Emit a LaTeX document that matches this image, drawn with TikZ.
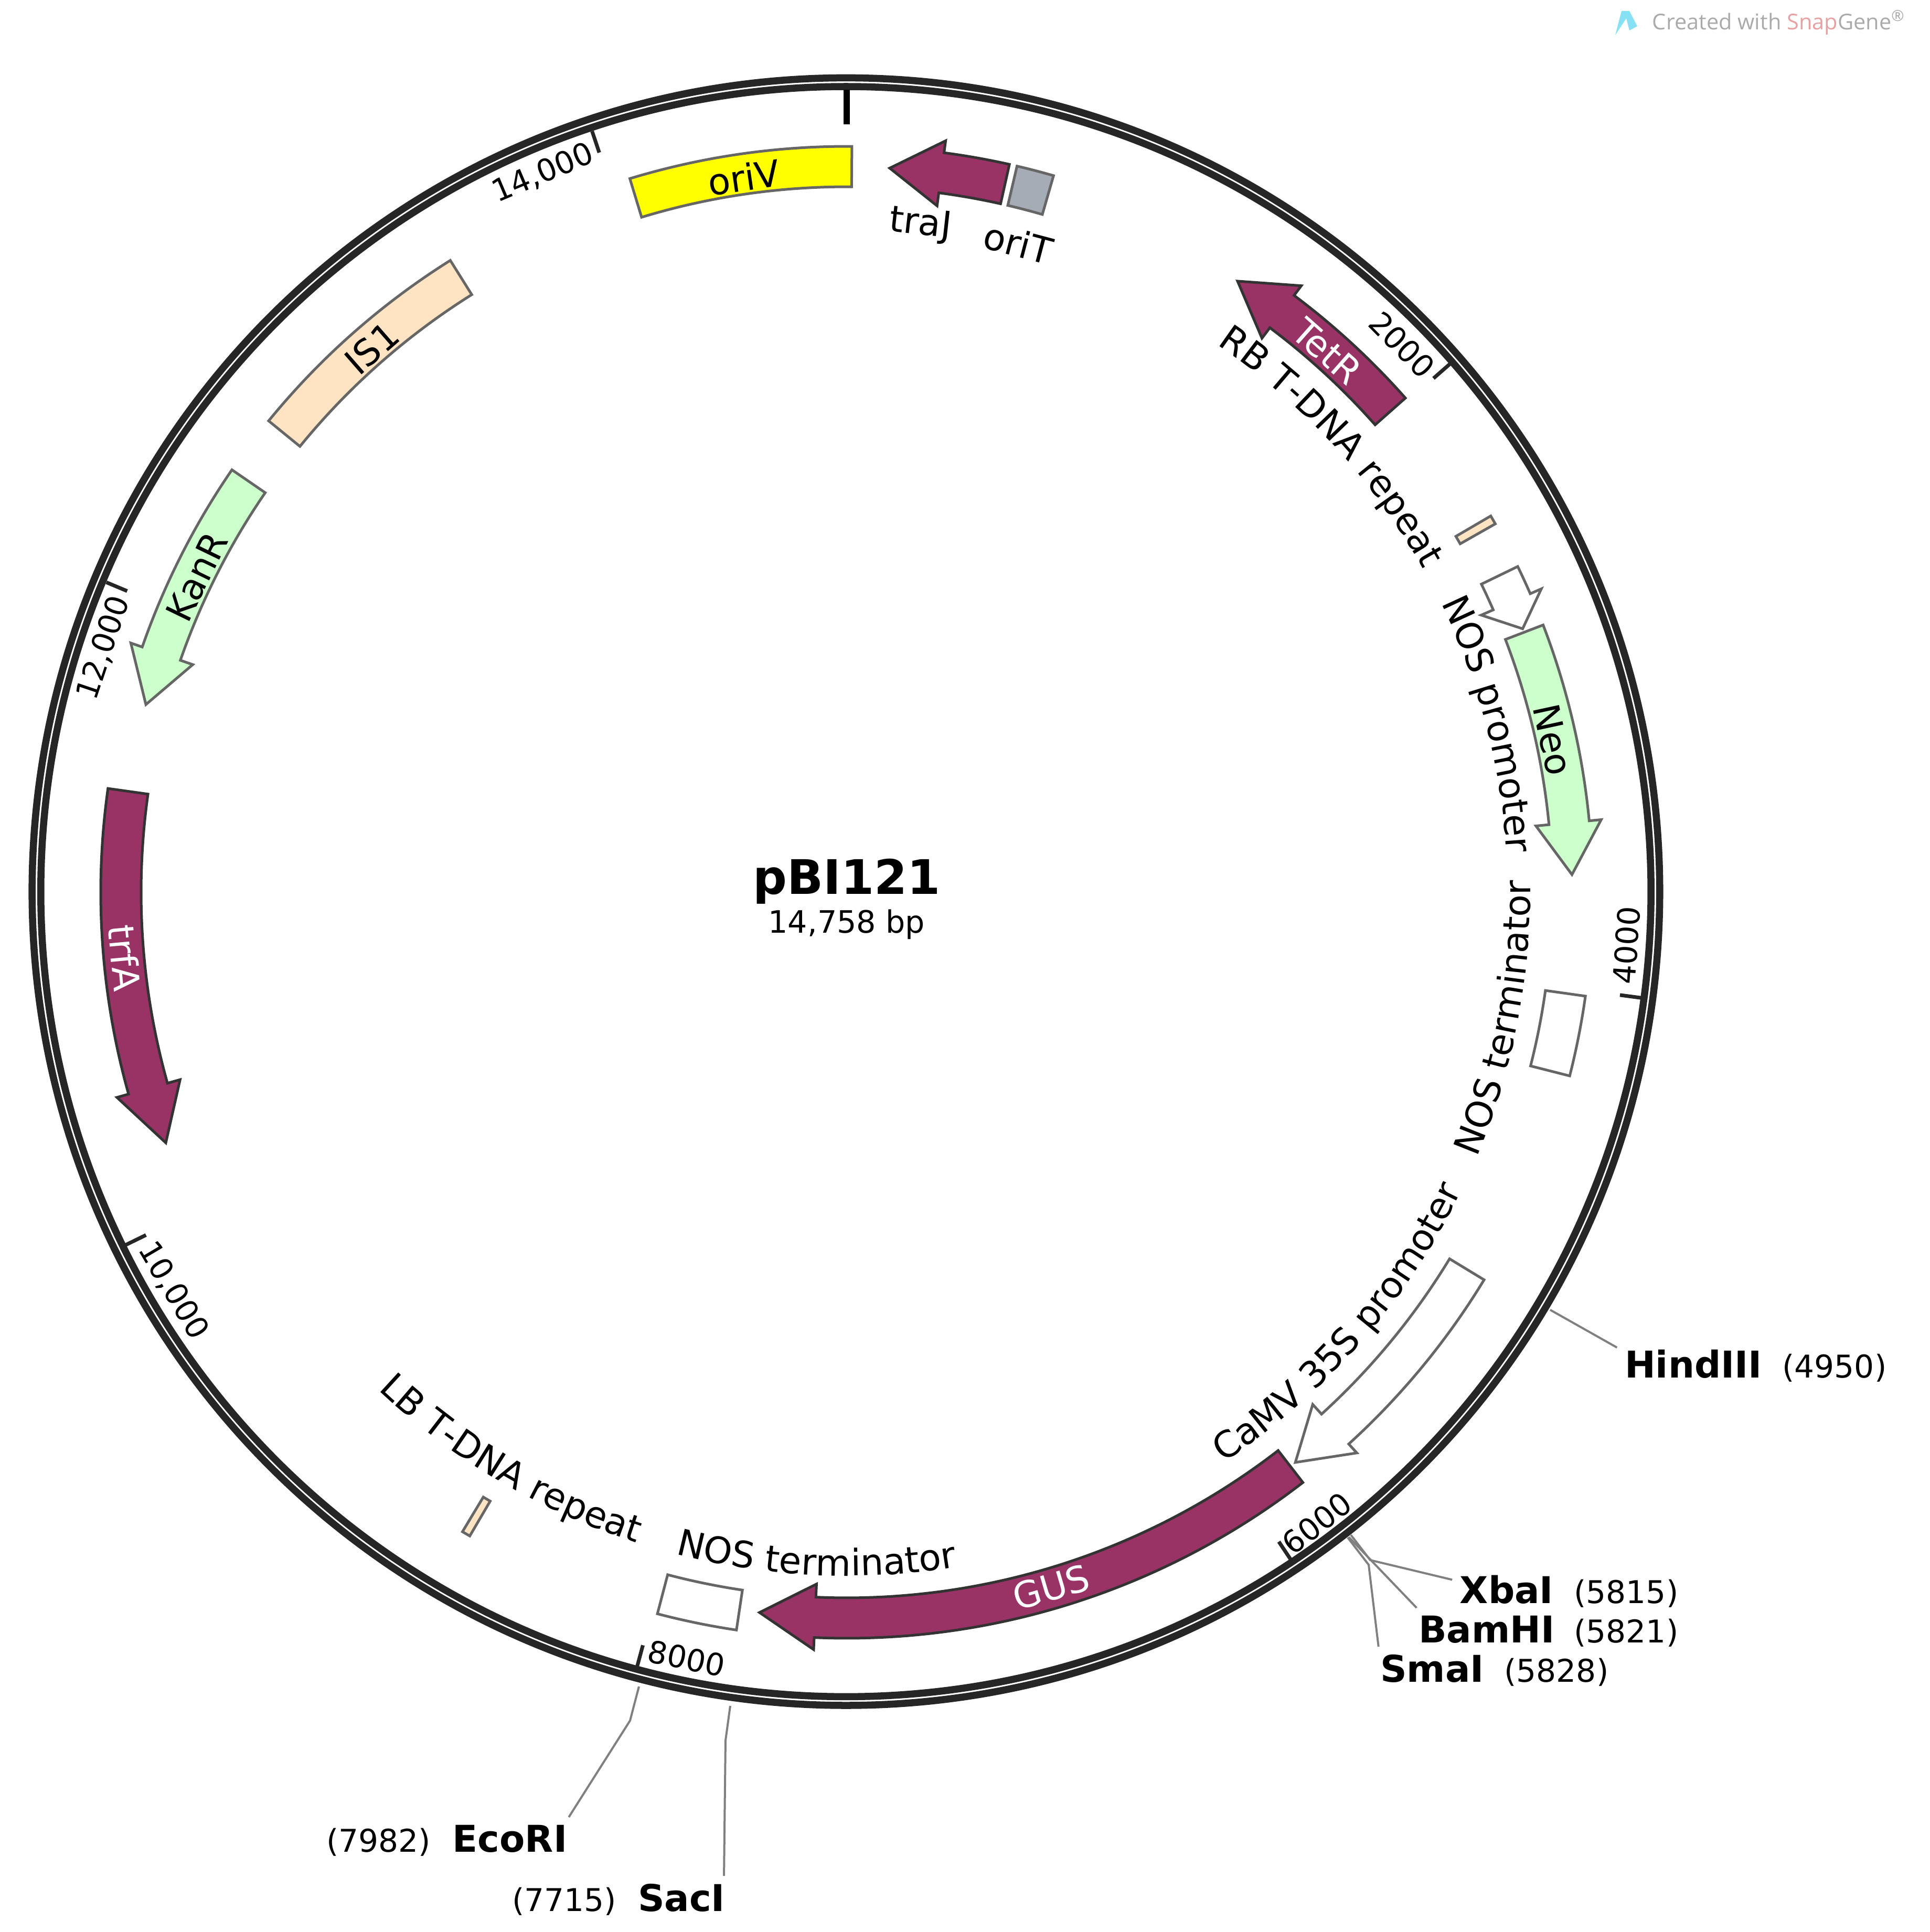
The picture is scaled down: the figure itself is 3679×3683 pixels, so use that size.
\documentclass[tikz,border=0pt]{standalone}
\usepackage{fontspec}
\setmainfont{DejaVu Sans}
\newfontfamily\markfont{Open Sans}
\usetikzlibrary{decorations.text}
\definecolor{ringc}{RGB}{38,38,38}
\definecolor{genec}{RGB}{153,51,102}
\definecolor{greenc}{RGB}{204,255,204}
\definecolor{peachc}{RGB}{255,228,196}
\definecolor{greyc}{RGB}{166,172,181}
\definecolor{oric}{RGB}{255,255,0}
\definecolor{edgec}{RGB}{102,102,102}
\definecolor{darkc}{RGB}{51,51,51}
\definecolor{linec}{RGB}{128,128,128}
\definecolor{markc}{RGB}{170,170,170}
\definecolor{snapc}{RGB}{232,160,160}
\definecolor{iconc}{RGB}{135,225,245}
\newcommand{\featfont}{\fontsize{19.7}{23}\selectfont}
\newcommand{\boxfeat}[3]{\draw[#3] (90-#1:1422) arc[start angle=90-#1,end angle=90-#2,radius=1422] -- (90-#2:1345) arc[start angle=90-#2,end angle=90-#1,radius=1345] -- cycle;}
\newcommand{\arrowfeat}[4]{\draw[#4] (90-#1:1422) arc[start angle=90-#1,end angle=90-#2,radius=1422] -- (90-#2:1445) -- (90-#3:1383) -- (90-#2:1320) -- (90-#2:1345) arc[start angle=90-#2,end angle=90-#1,radius=1345] -- cycle;}
\newcommand{\outlabel}[4]{\path[decorate,decoration={text along path,text align=center,text={|\featfont|#4}}] (90-#1+#2:#3) arc[start angle=90-#1+#2,end angle=90-#1-#2,radius=#3];}
\newcommand{\inlabel}[4]{\path[decorate,decoration={text along path,text align=center,text={|\featfont|#4}}] (90-#1-#2:#3) arc[start angle=90-#1-#2,end angle=90-#1+#2,radius=#3];}
\tikzset{
    ring/.style={draw=ringc,line width=0.135cm},
    gene/.style={fill=genec,draw=darkc,line width=0.05cm,line join=miter},
    green/.style={fill=greenc,draw=edgec,line width=0.05cm},
    peach/.style={fill=peachc,draw=edgec,line width=0.05cm},
    plain/.style={fill=white,draw=edgec,line width=0.05cm},
    featlabel/.style={font=\featfont,inner sep=0},
    ticklabel/.style={font=\fontsize{16.6}{20}\selectfont,inner sep=0},
    sitename/.style={font=\fontsize{20}{24}\selectfont\bfseries,inner sep=0.14cm,anchor=base},
    sitepos/.style={font=\fontsize{17}{20}\selectfont,inner sep=0,anchor=base},
    siteline/.style={draw=linec,line width=0.04cm}
}
\begin{document}
\begin{tikzpicture}[x=0.01cm,y=0.01cm]
    \useasboundingbox (-1614,-1982) rectangle (2065,1701);
    \draw[ring] (-1.5,1.3) circle[radius=1551.3];
    \draw[ring] (-1.5,1.3) circle[radius=1534.7];
    \draw[draw=black,line width=0.12cm] (90:1530) -- (90:1464);
    \foreach \tickpos/\ticktxt/\tickcw/\tickr/\tickrot in {2000/2000/45.4/1487/-45.4,4000/4000/93.9/1490/86.1,6000/6000/143.3/1500/38,8000/8000/191.8/1492/-11.8,10000/{10,000}/239.4/1492/-59.4,12000/{12,000}/288.2/1491/71.5,14000/{14,000}/337.1/1488/22.9}{
        \pgfmathsetmacro{\tickang}{90-\tickpos/14758*360}
        \draw[draw=ringc,line width=0.07cm] (\tickang:1530) -- (\tickang:1487);
        \node[ticklabel,rotate=\tickrot] (tick\tickpos) at (90-\tickcw:\tickr) {\ticktxt};
    }
    \node[font=\fontsize{25.8}{30}\selectfont\bfseries,inner sep=0] (title) at (0,21) {pBI121};
    \node[font=\fontsize{16.7}{20}\selectfont,inner sep=0] (size) at (0,-61) {14,758 bp};

    \boxfeat{0.4}{-16.9}{fill=oric,draw=edgec,line width=0.05cm}
    \arrowfeat{12.6}{7.5}{3.4}{gene}
    \boxfeat{13.2}{16.1}{fill=greyc,draw=edgec,line width=0.05cm}
    \arrowfeat{48.5}{36.85}{32.6}{gene}
    \boxfeat{59.7}{60.4}{peach}
    \arrowfeat{64.1}{66.4}{68.7}{plain}
    \arrowfeat{69}{84.5}{88.6}{green}
    \boxfeat{98}{104.25}{plain}
    \arrowfeat{121.3}{137.7}{141.8}{plain}
    \arrowfeat{142.3}{182.5}{186.9}{gene}
    \boxfeat{188.5}{194.7}{plain}
    \boxfeat{210.35}{211}{peach}
    \arrowfeat{278}{254.3}{249.8}{gene}
    \arrowfeat{304.5}{289.2}{285}{green}
    \boxfeat{309.2}{327.9}{peach}

    \node[featlabel,rotate=8.2] (oriV) at (90+8.2:1377) {oriV};
    \node[featlabel,rotate=-6.3] (traJ) at (90-6.3:1280) {traJ};
    \node[featlabel,rotate=-14.8] (oriT) at (90-14.8:1280) {oriT};
    \node[featlabel,rotate=-41.6,text=white] (TetR) at (90-41.6:1379) {TetR};
    \node[featlabel,rotate=-77.8] (Neo) at (90-77.8:1377) {Neo};
    \node[featlabel,rotate=-84.8,text=white] (trfA) at (90-264.8:1382) {trfA};
    \node[featlabel,rotate=64.1] (KanR) at (90-295.9:1377) {KanR};
    \node[featlabel,rotate=41.1] (IS1) at (90-318.9:1377) {IS1};
    \node[featlabel,rotate=16.4,text=white] (GUS) at (90-163.6:1381) {GUS};

    \outlabel{47.4}{24}{1260}{RB T-DNA repeat}
    \outlabel{75.3}{20}{1260}{NOS promoter}
    \inlabel{100.9}{20}{1303}{NOS terminator}
    \inlabel{131.2}{24}{1303}{CaMV 35S promoter}
    \inlabel{182.6}{20}{1303}{NOS terminator}
    \inlabel{210.6}{24}{1303}{LB T-DNA repeat}

    \node[sitename] (hindName) at (1614,-925) {HindIII};
    \node[sitepos] (hindPos) at (1883,-925) {(4950)};
    \node[sitename] (xbaName) at (1258,-1355) {XbaI};
    \node[sitepos] (xbaPos) at (1486,-1355) {(5815)};
    \node[sitename] (bamName) at (1220,-1430) {BamHI};
    \node[sitepos] (bamPos) at (1486,-1430) {(5821)};
    \node[sitename] (smaName) at (1116,-1505) {SmaI};
    \node[sitepos] (smaPos) at (1353,-1505) {(5828)};
    \node[sitename] (ecoName) at (-642,-1829) {EcoRI};
    \node[sitepos] (ecoPos) at (-892,-1829) {(7982)};
    \node[sitename] (sacName) at (-315,-1942) {SacI};
    \node[sitepos] (sacPos) at (-538,-1942) {(7715)};

    \coordinate (hindSite) at (1341,-796);
    \coordinate (xbaSite) at (961,-1225);
    \coordinate (xbaBend) at (998,-1273);
    \coordinate (bamSite) at (957,-1229);
    \coordinate (smaSite) at (955,-1230);
    \coordinate (smaBend) at (995,-1282);
    \coordinate (ecoSite) at (-396,-1514);
    \coordinate (ecoBend) at (-413,-1579);
    \coordinate (sacSite) at (-222,-1551);
    \coordinate (sacBend) at (-231,-1617);
    \draw[siteline] (hindSite) -- (hindName.168);
    \draw[siteline] (xbaSite) -- (xbaBend) -- (xbaName.170);
    \draw[siteline] (bamSite) -- (bamName.163);
    \draw[siteline] (smaSite) -- (smaBend) -- (smaName.158);
    \draw[siteline] (ecoSite) -- (ecoBend) -- (ecoName.20);
    \draw[siteline] (sacSite) -- (sacBend) -- (sacName.27);

    \fill[iconc] (1465,1634) -- (1477,1680) -- (1492,1680) -- (1507,1651) -- (1492,1643) -- (1486,1666) -- cycle;
    \node[font=\markfont\fontsize{11.8}{14}\selectfont,text=markc,inner sep=0,anchor=east] (mark) at (2018,1658) {Created with \textcolor{snapc}{Snap}Gene\textsuperscript{\textregistered}};
\end{tikzpicture}
\end{document}
